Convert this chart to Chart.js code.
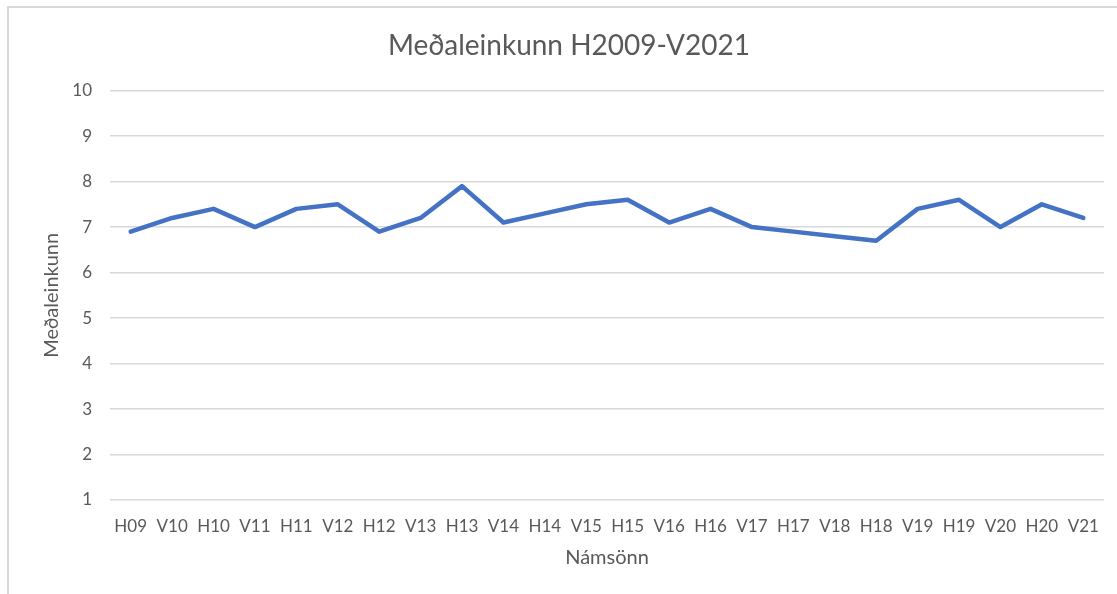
<!DOCTYPE html>
<html>
<head>
<meta charset="utf-8">
<script src="https://cdn.jsdelivr.net/npm/chart.js@4.4.1/dist/chart.umd.min.js"></script>
<style>
  html, body { margin: 0; padding: 0; background: #ffffff; }
  #wrap { width: 1117px; height: 594px; position: relative; }
</style>
</head>
<body>
<div id="wrap"><canvas id="c" width="1117" height="594"></canvas></div>
<script>
const categories = ["H09","V10","H10","V11","H11","V12","H12","V13","H13","V14","H14","V15","H15","V16","H16","V17","H17","V18","H18","V19","H19","V20","H20","V21"];
const meanGrades = [6.9,7.2,7.4,7.0,7.4,7.5,6.9,7.2,7.9,7.1,7.3,7.5,7.6,7.1,7.4,7.0,6.9,6.8,6.7,7.4,7.6,7.0,7.5,7.2];
const chartTitle = "Meðaleinkunn H2009-V2021";
const xTitle = "Námsönn";
const yTitle = "Meðaleinkunn";

const FONT = "Lato, 'Open Sans', sans-serif";
const TEXT = "#595959";

const framePlugin = {
  id: 'frame',
  beforeDraw(chart) {
    const ctx = chart.ctx;
    ctx.save();
    ctx.fillStyle = '#ffffff';
    ctx.fillRect(0, 0, chart.width, chart.height);
    ctx.strokeStyle = '#d9d9d9';
    ctx.lineWidth = 2;
    ctx.beginPath();
    ctx.moveTo(8, chart.height + 5);
    ctx.lineTo(8, 7);
    ctx.lineTo(chart.width + 5, 7);
    ctx.stroke();
    ctx.restore();
  }
};

new Chart(document.getElementById('c'), {
  type: 'line',
  data: {
    labels: categories,
    datasets: [{
      data: meanGrades,
      borderColor: '#4472C4',
      borderWidth: 4.5,
      pointRadius: 0,
      pointHoverRadius: 0,
      tension: 0,
      fill: false,
      borderCapStyle: 'round',
      borderJoinStyle: 'round'
    }]
  },
  options: {
    responsive: false,
    animation: false,
    devicePixelRatio: 1,
    layout: { padding: { left: 34, right: 13, top: 0, bottom: 0 } },
    plugins: {
      legend: { display: false },
      tooltip: { enabled: false },
      title: {
        display: true,
        text: chartTitle,
        color: TEXT,
        font: { family: FONT, size: 28, weight: 'normal' },
        padding: { top: 29, bottom: 28 }
      }
    },
    scales: {
      x: {
        type: 'category',
        offset: true,
        grid: { display: false, drawTicks: false },
        border: { display: false },
        ticks: {
          color: TEXT,
          font: { family: FONT, size: 17 },
          autoSkip: false,
          maxRotation: 0,
          minRotation: 0,
          padding: 16
        },
        title: {
          display: true,
          text: xTitle,
          color: TEXT,
          font: { family: FONT, size: 20 },
          padding: { top: 0, bottom: 24 }
        },
        afterFit(scale) { scale.height = 94; }
      },
      y: {
        min: 1,
        max: 10,
        grid: { color: '#d9d9d9', lineWidth: 1.5, drawTicks: false },
        border: { display: false },
        ticks: {
          stepSize: 1,
          color: TEXT,
          font: { family: FONT, size: 17 },
          padding: 18
        },
        title: {
          display: true,
          text: yTitle,
          color: TEXT,
          font: { family: FONT, size: 20 },
          padding: { top: 6, bottom: 0 }
        },
        afterFit(scale) { scale.width = 76; }
      }
    }
  },
  plugins: [framePlugin]
});
</script>
</body>
</html>
